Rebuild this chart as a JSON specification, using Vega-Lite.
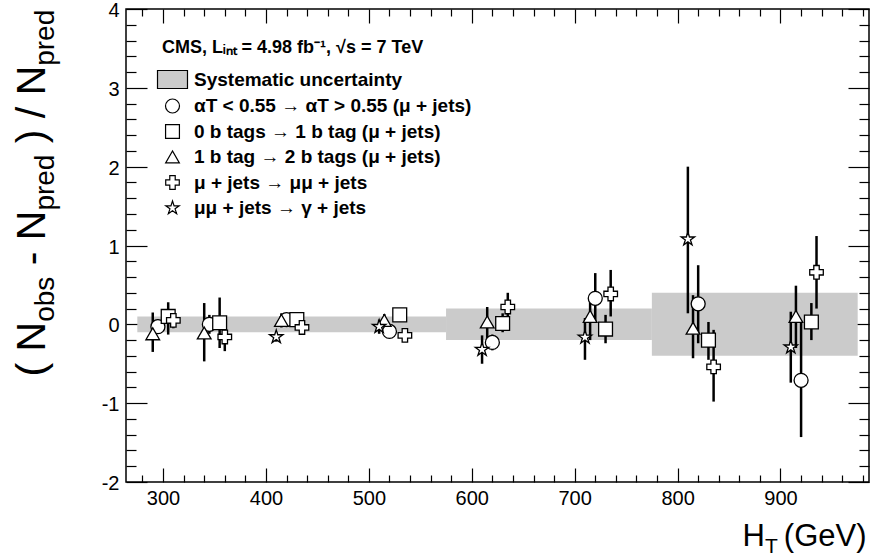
{
  "$schema": "https://vega.github.io/schema/vega-lite/v6.json",
  "width": 743,
  "height": 473,
  "autosize": {"type": "none"},
  "padding": {"left": 126, "top": 9, "right": 1, "bottom": 74},
  "background": "white",
  "config": {
    "view": {"stroke": "black", "strokeWidth": 1.5},
    "font": "Liberation Sans",
    "axis": {"grid": false, "domain": false, "labelFont": "Liberation Sans", "titleFont": "Liberation Sans", "labelColor": "black", "titleColor": "black", "tickColor": "black", "tickWidth": 1.2, "labelFontSize": 20, "titleFontWeight": "normal"},
    "legend": {"orient": "none", "legendX": 37, "legendY": 61, "title": null, "labelFont": "Liberation Sans", "labelFontSize": 19, "labelFontWeight": "bold", "labelColor": "black", "labelOffset": 12, "rowPadding": 5.5, "labelLimit": 0, "symbolStrokeColor": "black", "symbolStrokeWidth": 1.2}
  },
  "title": {"text": "CMS, Lᵢₙₜ = 4.98 fb⁻¹, √s = 7 TeV", "anchor": "start", "frame": "group", "orient": "top", "offset": 0, "dx": 36, "dy": 70, "baseline": "alphabetic", "font": "Liberation Sans", "fontSize": 18, "fontWeight": "bold", "color": "black"},
  "datasets": {
    "band": [
      {"x1": 275, "x2": 575, "b1": -0.1, "b2": 0.1},
      {"x1": 575, "x2": 775, "b1": -0.2, "b2": 0.2},
      {"x1": 775, "x2": 975, "b1": -0.4, "b2": 0.4}
    ],
    "pts": [
      {"ht": 295, "v": -0.03, "lo": -0.12, "hi": 0.06, "s": "αT < 0.55 → αT > 0.55 (μ + jets)"},
      {"ht": 305, "v": 0.10, "lo": -0.13, "hi": 0.28, "s": "0 b tags → 1 b tag (μ + jets)"},
      {"ht": 290, "v": -0.12, "lo": -0.35, "hi": 0.15, "s": "1 b tag → 2 b tags (μ + jets)"},
      {"ht": 310, "v": 0.05, "lo": -0.05, "hi": 0.15, "s": "μ + jets → μμ + jets"},
      {"ht": 345, "v": 0.0, "lo": -0.12, "hi": 0.12, "s": "αT < 0.55 → αT > 0.55 (μ + jets)"},
      {"ht": 355, "v": 0.02, "lo": -0.30, "hi": 0.34, "s": "0 b tags → 1 b tag (μ + jets)"},
      {"ht": 340, "v": -0.11, "lo": -0.47, "hi": 0.27, "s": "1 b tag → 2 b tags (μ + jets)"},
      {"ht": 360, "v": -0.16, "lo": -0.34, "hi": 0.03, "s": "μ + jets → μμ + jets"},
      {"ht": 420, "v": 0.06, "lo": -0.02, "hi": 0.14, "s": "αT < 0.55 → αT > 0.55 (μ + jets)"},
      {"ht": 430, "v": 0.06, "lo": -0.02, "hi": 0.14, "s": "0 b tags → 1 b tag (μ + jets)"},
      {"ht": 415, "v": 0.05, "lo": -0.04, "hi": 0.14, "s": "1 b tag → 2 b tags (μ + jets)"},
      {"ht": 435, "v": -0.04, "lo": -0.12, "hi": 0.04, "s": "μ + jets → μμ + jets"},
      {"ht": 410, "v": -0.16, "lo": -0.22, "hi": -0.10, "s": "μμ + jets → γ + jets"},
      {"ht": 520, "v": -0.09, "lo": -0.16, "hi": -0.02, "s": "αT < 0.55 → αT > 0.55 (μ + jets)"},
      {"ht": 530, "v": 0.12, "lo": 0.04, "hi": 0.20, "s": "0 b tags → 1 b tag (μ + jets)"},
      {"ht": 515, "v": 0.05, "lo": -0.03, "hi": 0.13, "s": "1 b tag → 2 b tags (μ + jets)"},
      {"ht": 535, "v": -0.14, "lo": -0.22, "hi": -0.06, "s": "μ + jets → μμ + jets"},
      {"ht": 510, "v": -0.03, "lo": -0.12, "hi": 0.06, "s": "μμ + jets → γ + jets"},
      {"ht": 620, "v": -0.23, "lo": -0.33, "hi": -0.13, "s": "αT < 0.55 → αT > 0.55 (μ + jets)"},
      {"ht": 630, "v": 0.01, "lo": -0.10, "hi": 0.14, "s": "0 b tags → 1 b tag (μ + jets)"},
      {"ht": 615, "v": 0.03, "lo": -0.20, "hi": 0.22, "s": "1 b tag → 2 b tags (μ + jets)"},
      {"ht": 635, "v": 0.22, "lo": 0.03, "hi": 0.40, "s": "μ + jets → μμ + jets"},
      {"ht": 610, "v": -0.32, "lo": -0.50, "hi": -0.14, "s": "μμ + jets → γ + jets"},
      {"ht": 720, "v": 0.33, "lo": 0.02, "hi": 0.65, "s": "αT < 0.55 → αT > 0.55 (μ + jets)"},
      {"ht": 730, "v": -0.06, "lo": -0.24, "hi": 0.12, "s": "0 b tags → 1 b tag (μ + jets)"},
      {"ht": 715, "v": 0.10, "lo": -0.20, "hi": 0.35, "s": "1 b tag → 2 b tags (μ + jets)"},
      {"ht": 735, "v": 0.385, "lo": 0.10, "hi": 0.69, "s": "μ + jets → μμ + jets"},
      {"ht": 710, "v": -0.165, "lo": -0.45, "hi": 0.08, "s": "μμ + jets → γ + jets"},
      {"ht": 820, "v": 0.26, "lo": -0.24, "hi": 0.75, "s": "αT < 0.55 → αT > 0.55 (μ + jets)"},
      {"ht": 830, "v": -0.20, "lo": -0.45, "hi": 0.03, "s": "0 b tags → 1 b tag (μ + jets)"},
      {"ht": 815, "v": -0.05, "lo": -0.43, "hi": 0.37, "s": "1 b tag → 2 b tags (μ + jets)"},
      {"ht": 835, "v": -0.54, "lo": -0.98, "hi": -0.07, "s": "μ + jets → μμ + jets"},
      {"ht": 810, "v": 1.08, "lo": 0.14, "hi": 2.00, "s": "μμ + jets → γ + jets"},
      {"ht": 920, "v": -0.71, "lo": -1.43, "hi": 0.03, "s": "αT < 0.55 → αT > 0.55 (μ + jets)"},
      {"ht": 930, "v": 0.03, "lo": -0.20, "hi": 0.27, "s": "0 b tags → 1 b tag (μ + jets)"},
      {"ht": 915, "v": 0.10, "lo": -0.30, "hi": 0.49, "s": "1 b tag → 2 b tags (μ + jets)"},
      {"ht": 935, "v": 0.66, "lo": 0.20, "hi": 1.12, "s": "μ + jets → μμ + jets"},
      {"ht": 910, "v": -0.29, "lo": -0.74, "hi": 0.16, "s": "μμ + jets → γ + jets"}
    ]
  },
  "layer": [
    {
      "data": {"name": "band"},
      "mark": {"type": "rect", "fill": "#cbcbcb", "stroke": null},
      "encoding": {
        "x": {"field": "x1", "type": "quantitative", "scale": {"domain": [264, 986], "nice": false, "zero": false},
              "axis": {"orient": "bottom", "values": [300, 400, 500, 600, 700, 800, 900], "ticks": false, "labelPadding": 6, "labelFlush": false, "labelOverlap": false,
                       "title": "H", "titleFontSize": 31, "titleAlign": "left", "titleX": 616, "titleY": 63, "titleBaseline": "alphabetic"}},
        "x2": {"field": "x2"},
        "y": {"field": "b1", "type": "quantitative", "scale": {"domain": [-2, 4], "nice": false, "zero": false},
              "axis": {"orient": "left", "values": [-2, -1, 0, 1, 2, 3, 4], "ticks": false, "labelPadding": 7, "labelOffset": 1.5, "labelFlush": false, "labelOverlap": false, "labelExpr": "'' + datum.value",
                       "title": "( N", "titleFontSize": 41, "titleAngle": -90, "titleAlign": "left", "titleBaseline": "alphabetic", "titleX": -82, "titleY": 367}},
        "y2": {"field": "b2"}
      }
    },
    {
      "data": {"name": "pts"},
      "mark": {"type": "rule", "color": "black", "strokeWidth": 2.5},
      "encoding": {
        "x": {"field": "ht", "type": "quantitative", "axis": {"orient": "bottom", "values": [300, 400, 500, 600, 700, 800, 900], "labels": false, "tickSize": -14,
              "title": "T", "titleFontSize": 21, "titleAlign": "left", "titleX": 638.5, "titleY": 70, "titleBaseline": "alphabetic"}},
        "y": {"field": "lo", "type": "quantitative", "axis": {"orient": "left", "values": [-2, -1, 0, 1, 2, 3, 4], "labels": false, "tickSize": -21,
              "title": "obs", "titleFontSize": 28, "titleAngle": -90, "titleAlign": "left", "titleBaseline": "alphabetic", "titleX": -73, "titleY": 312.3}},
        "y2": {"field": "hi"}
      }
    },
    {
      "data": {"name": "pts"},
      "mark": {"type": "point", "filled": true, "strokeWidth": 1.3, "opacity": 1},
      "encoding": {
        "x": {"field": "ht", "type": "quantitative", "axis": {"orient": "top", "values": [300, 400, 500, 600, 700, 800, 900], "labels": false, "tickSize": -14, "title": null}},
        "y": {"field": "v", "type": "quantitative", "axis": {"orient": "right", "values": [-2, -1, 0, 1, 2, 3, 4], "labels": false, "tickSize": -21,
              "title": "- N", "titleFontSize": 41, "titleAngle": -90, "titleAlign": "left", "titleBaseline": "alphabetic", "titleX": -825, "titleY": 255.8}},
        "shape": {"field": "s", "type": "nominal",
                  "scale": {"domain": ["Systematic uncertainty", "αT < 0.55 → αT > 0.55 (μ + jets)", "0 b tags → 1 b tag (μ + jets)", "1 b tag → 2 b tags (μ + jets)", "μ + jets → μμ + jets", "μμ + jets → γ + jets"],
                            "range": ["M-2.12,-1.27L2.12,-1.27L2.12,1.27L-2.12,1.27Z", "circle", "square", "triangle-up", "cross", "M0,-1.05L0.236,-0.325L1,-0.325L0.382,0.124L0.618,0.85L0,0.4L-0.618,0.85L-0.382,0.124L-1,-0.325L-0.236,-0.325Z"]},
                  "legend": {"orient": "none", "legendX": 37, "legendY": 61, "title": null}},
        "fill": {"field": "s", "type": "nominal",
                 "scale": {"domain": ["Systematic uncertainty", "αT < 0.55 → αT > 0.55 (μ + jets)", "0 b tags → 1 b tag (μ + jets)", "1 b tag → 2 b tags (μ + jets)", "μ + jets → μμ + jets", "μμ + jets → γ + jets"],
                           "range": ["#cbcbcb", "white", "white", "white", "white", "white"]},
                 "legend": {"orient": "none", "legendX": 37, "legendY": 61, "title": null}},
        "stroke": {"field": "s", "type": "nominal",
                 "scale": {"domain": ["Systematic uncertainty", "αT < 0.55 → αT > 0.55 (μ + jets)", "0 b tags → 1 b tag (μ + jets)", "1 b tag → 2 b tags (μ + jets)", "μ + jets → μμ + jets", "μμ + jets → γ + jets"],
                           "range": ["black", "black", "black", "black", "black", "black"]},
                 "legend": {"orient": "none", "legendX": 37, "legendY": 61, "title": null}},
        "size": {"field": "s", "type": "nominal",
                 "scale": {"domain": ["Systematic uncertainty", "αT < 0.55 → αT > 0.55 (μ + jets)", "0 b tags → 1 b tag (μ + jets)", "1 b tag → 2 b tags (μ + jets)", "μ + jets → μμ + jets", "μμ + jets → γ + jets"],
                           "range": [200, 180, 170, 240, 280, 290]},
                 "legend": {"orient": "none", "legendX": 37, "legendY": 61, "title": null}}
      }
    },
    {
      "data": {"name": "pts"},
      "mark": {"type": "point", "opacity": 0},
      "encoding": {
        "x": {"field": "ht", "type": "quantitative", "axis": {"orient": "bottom", "values": [280, 320, 340, 360, 380, 420, 440, 460, 480, 520, 540, 560, 580, 620, 640, 660, 680, 720, 740, 760, 780, 820, 840, 860, 880, 920, 940, 960, 980], "labels": false, "tickSize": -7,
              "title": "(GeV)", "titleFontSize": 31, "titleAlign": "right", "titleX": 740, "titleY": 63, "titleBaseline": "alphabetic"}},
        "y": {"field": "v", "type": "quantitative", "axis": {"orient": "left", "values": [-1.8, -1.6, -1.4, -1.2, -0.8, -0.6, -0.4, -0.2, 0.2, 0.4, 0.6, 0.8, 1.2, 1.4, 1.6, 1.8, 2.2, 2.4, 2.6, 2.8, 3.2, 3.4, 3.6, 3.8], "labels": false, "tickSize": -10,
              "title": "pred", "titleFontSize": 28, "titleAngle": -90, "titleAlign": "left", "titleBaseline": "alphabetic", "titleX": -73, "titleY": 201.1}}
      }
    },
    {
      "data": {"name": "pts"},
      "mark": {"type": "point", "opacity": 0},
      "encoding": {
        "x": {"field": "ht", "type": "quantitative", "axis": {"orient": "top", "values": [280, 320, 340, 360, 380, 420, 440, 460, 480, 520, 540, 560, 580, 620, 640, 660, 680, 720, 740, 760, 780, 820, 840, 860, 880, 920, 940, 960, 980], "labels": false, "tickSize": -7, "title": null}},
        "y": {"field": "v", "type": "quantitative", "axis": {"orient": "right", "values": [-1.8, -1.6, -1.4, -1.2, -0.8, -0.6, -0.4, -0.2, 0.2, 0.4, 0.6, 0.8, 1.2, 1.4, 1.6, 1.8, 2.2, 2.4, 2.6, 2.8, 3.2, 3.4, 3.6, 3.8], "labels": false, "tickSize": -10,
              "title": ") / N", "titleFontSize": 41, "titleAngle": -90, "titleAlign": "left", "titleBaseline": "alphabetic", "titleX": -825, "titleY": 133.7}}
      }
    },
    {
      "data": {"name": "pts"},
      "mark": {"type": "point", "opacity": 0},
      "encoding": {
        "y": {"field": "v", "type": "quantitative", "axis": {"orient": "left", "values": [0], "labels": false, "ticks": false,
              "title": "pred", "titleFontSize": 28, "titleAngle": -90, "titleAlign": "left", "titleBaseline": "alphabetic", "titleX": -73, "titleY": 56.3}}
      }
    }
  ],
  "resolve": {"scale": {"x": "shared", "y": "shared"}, "axis": {"x": "independent", "y": "independent"}}
}
